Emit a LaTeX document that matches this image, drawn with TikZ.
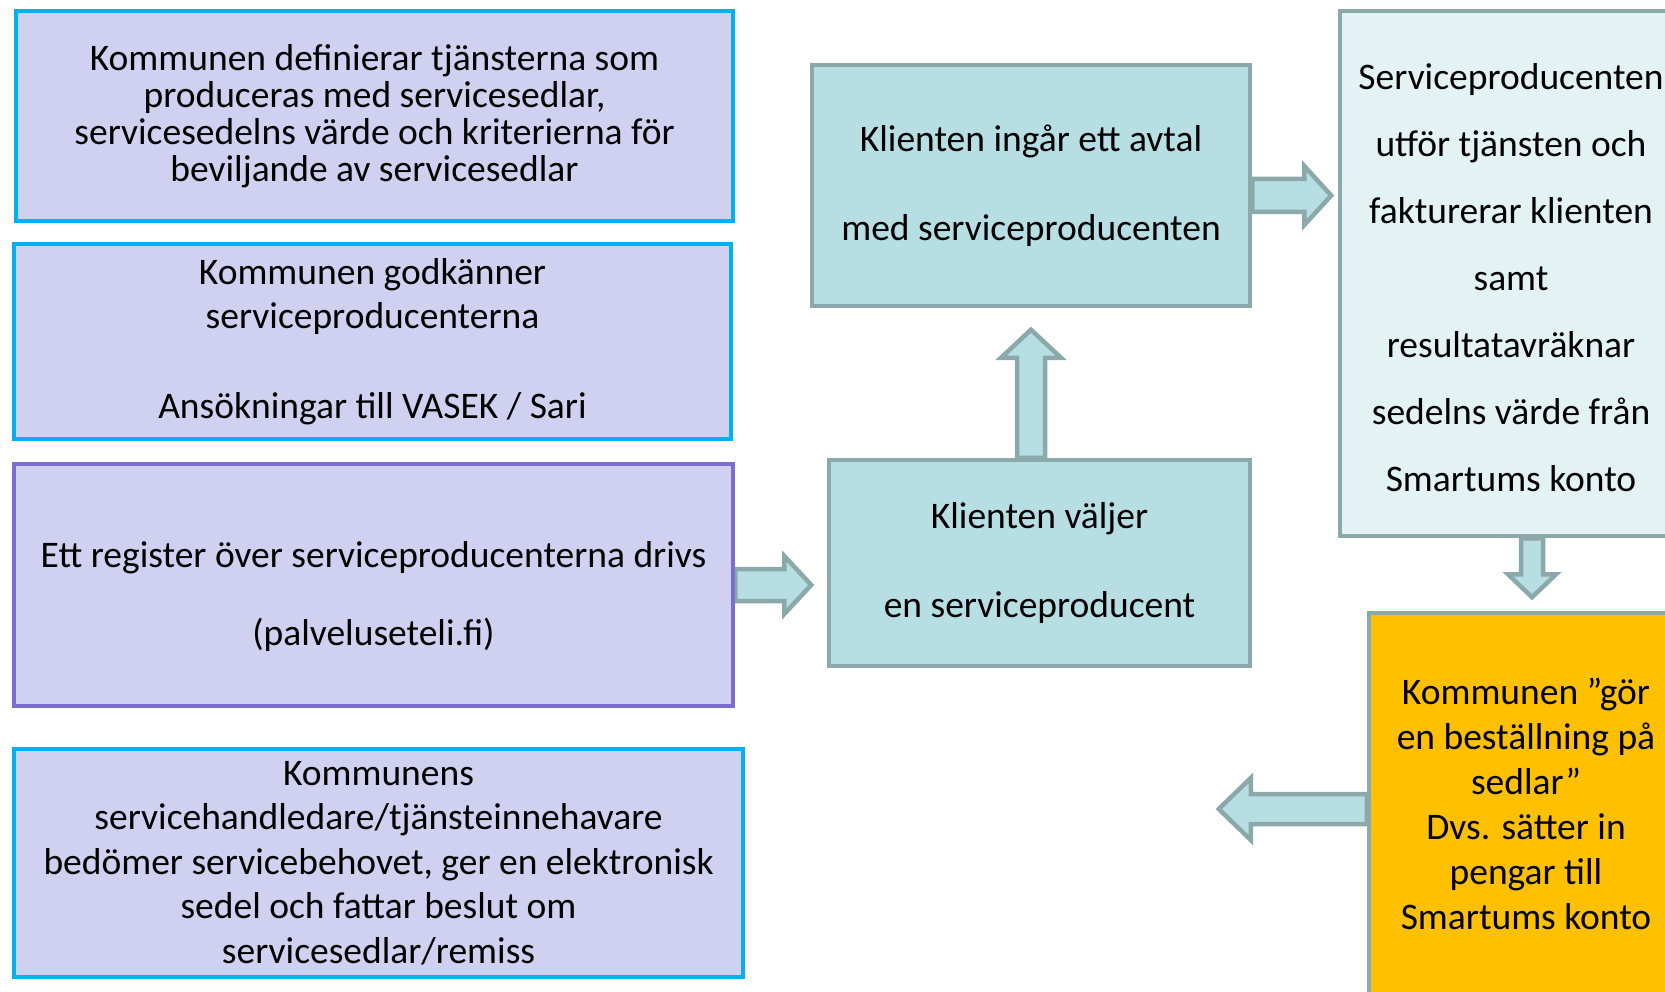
\documentclass[tikz,border=0pt]{standalone}
\usepackage{fontspec}
\setmainfont{Carlito}
\usetikzlibrary{calc,backgrounds}
\definecolor{lavfill}{RGB}{208,208,240}
\definecolor{cyanedge}{RGB}{0,176,240}
\definecolor{violedge}{RGB}{122,110,210}
\definecolor{tealfill}{RGB}{183,222,227}
\definecolor{tealedge}{RGB}{139,168,170}
\definecolor{palefill}{RGB}{227,242,243}
\definecolor{goldfill}{RGB}{255,192,0}
\tikzset{
	stepbox/.style={draw, line width=4.5pt, inner sep=0pt, align=center, font=\fontsize{37.5}{44.6}\selectfont},
	lavbox/.style={stepbox, fill=lavfill, draw=cyanedge},
	regbox/.style={stepbox, fill=lavfill, draw=violedge},
	tealbox/.style={stepbox, fill=tealfill, draw=tealedge},
	palebox/.style={stepbox, fill=palefill, draw=tealedge},
	goldbox/.style={stepbox, fill=goldfill, draw=tealedge},
	blockarrow/.style={fill=tealfill, draw=tealedge, line width=4.5pt, line join=miter}
}

\begin{document}
\begin{tikzpicture}[x=1pt,y=-1pt]
			%%%%% START %%%%%
			\useasboundingbox (0,0) rectangle (1665,992);
			\clip (0,0) rectangle (1665,992);
			
			\node[lavbox, minimum width=717pt, minimum height=210pt, font=\fontsize{37.5}{37}\selectfont] (def) at (374.5,116)
				{Kommunen definierar tjänsterna som\\ produceras med servicesedlar,\\ servicesedelns värde och kriterierna för\\ beviljande av servicesedlar};
			\node[lavbox, minimum width=717pt, minimum height=195pt] (godk) at (372.5,341.5)
				{Kommunen godkänner\\ serviceproducenterna\\[44.6pt] Ansökningar till VASEK / Sari};
			\node[regbox, minimum width=719pt, minimum height=242pt] (reg) at (373.5,585) {};
			\node[align=center, inner sep=0pt, font=\fontsize{37.5}{78}\selectfont] (regtext) at (373.5,596)
				{Ett register över serviceproducenterna drivs\\ (palveluseteli.fi)};
			\node[lavbox, minimum width=729pt, minimum height=228pt] (bed) at (378.5,863)
				{Kommunens\\ servicehandledare/tjänsteinnehavare\\ bedömer servicebehovet, ger en elektronisk\\ sedel och fattar beslut om\\ servicesedlar/remiss};
			
			\node[tealbox, minimum width=438pt, minimum height=241pt, font=\fontsize{37.5}{89}\selectfont] (avtal) at (1031,185.5)
				{Klienten ingår ett avtal\\ med serviceproducenten};
			\node[tealbox, minimum width=421pt, minimum height=206pt, font=\fontsize{37.5}{89}\selectfont] (valj) at (1039.5,563)
				{Klienten väljer\\ en serviceproducent};
			
			\node[palebox, minimum width=342pt, minimum height=525pt] (utfor) at (1511,273.5) {};
			\node[align=center, inner sep=0pt, font=\fontsize{37.5}{67}\selectfont] (utfortext) at (1511,278)
				{Serviceproducenten\\ utför tjänsten och\\ fakturerar klienten\\ samt\\ resultatavräknar\\ sedelns värde från\\ Smartums konto};
			\node[goldbox, minimum width=314pt, minimum height=382pt, font=\fontsize{37.5}{45}\selectfont] (best) at (1526,804)
				{Kommunen ”gör\\ en beställning på\\ sedlar”\\ Dvs. sätter in\\ pengar till\\ Smartums konto};
			
			\begin{scope}[on background layer]
			% register -> klienten valjer
			\draw[blockarrow] (reg.east) ++(0,-16) -- ++(49,0) -- ++(0,-13) -- ++(27,29) -- ++(-27,29) -- ++(0,-13) -- ++(-49,0) -- cycle;
			% klienten valjer -> avtal
			\coordinate (upfoot) at (avtal.south |- valj.north);
			\draw[blockarrow] (upfoot) ++(-14,0) -- ++(0,-100) -- ++(-16,0) -- ++(30,-28) -- ++(30,28) -- ++(-16,0) -- ++(0,100) -- cycle;
			% avtal -> serviceproducenten
			\draw[blockarrow] ($(avtal.east)+(0,10)$) ++(0,-16.5) -- ++(52,0) -- ++(0,-13) -- ++(27,29.5) -- ++(-27,29.5) -- ++(0,-13) -- ++(-52,0) -- cycle;
			% serviceproducenten -> bestallning
			\draw[blockarrow] ($(utfor.south)+(21,0)$) ++(-11,0) -- ++(0,36) -- ++(-13,0) -- ++(24,23) -- ++(24,-23) -- ++(-13,0) -- ++(0,-36) -- cycle;
			% bestallning -> left
			\coordinate (back) at ($(best.west)+(0,5)$);
			\draw[blockarrow] (back) ++(0,-15) -- ++(-116,0) -- ++(0,-16) -- ++(-32,31) -- ++(32,31) -- ++(0,-16) -- ++(116,0) -- cycle;
			\end{scope}
			%%%%% END %%%%%
\end{tikzpicture}
\end{document}
